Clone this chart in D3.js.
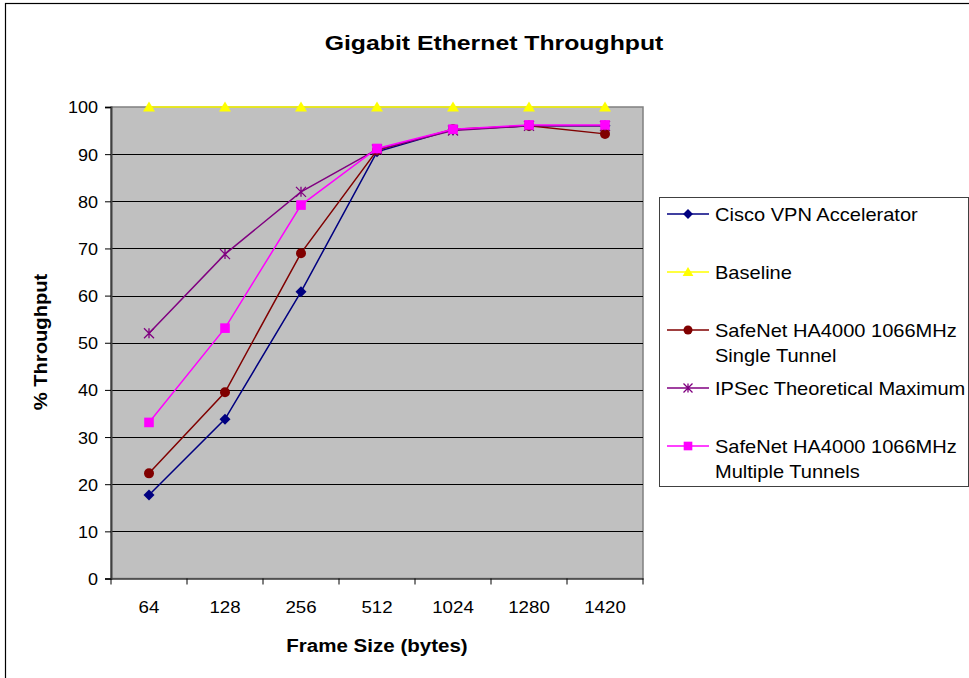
<!DOCTYPE html>
<html>
<head>
<meta charset="utf-8">
<script src="https://cdn.jsdelivr.net/npm/d3@7"></script>
<style>
  html, body { margin: 0; padding: 0; background: #fff; }
  svg { display: block; font-family: "Liberation Sans", Arial, sans-serif; }
</style>
</head>
<body>
<svg id="chart" width="969" height="678"></svg>
<script>
// Frame sizes on the category axis
const frameSizes = ["64", "128", "256", "512", "1024", "1280", "1420"];
const yTicks = [0, 10, 20, 30, 40, 50, 60, 70, 80, 90, 100];

// Throughput (%) per frame size for each configuration
const ciscoVpn      = [17.7, 33.8, 60.8, 90.5, 95.2, 96.0, 96.0];
const baseline      = [100, 100, 100, 100, 100, 100, 100];
const safenetSingle = [22.3, 39.5, 69.0, 90.8, 95.3, 96.0, 94.3];
const ipsecMax      = [52.0, 68.8, 82.0, 91.0, 95.0, 96.0, 96.0];
const safenetMulti  = [33.1, 53.1, 79.2, 91.2, 95.3, 96.2, 96.2];

const seriesNames = [
  ["Cisco VPN Accelerator"],
  ["Baseline"],
  ["SafeNet HA4000 1066MHz", "Single Tunnel"],
  ["IPSec Theoretical Maximum"],
  ["SafeNet HA4000 1066MHz", "Multiple Tunnels"]
];
const seriesValues = [ciscoVpn, baseline, safenetSingle, ipsecMax, safenetMulti];
const seriesColors = ["#000080", "#FFFF00", "#800000", "#800080", "#FF00FF"];
const seriesMarkers = ["diamond", "triangle", "circle", "star", "square"];

const series = seriesValues.map((vals, i) => ({
  name: seriesNames[i], values: vals, color: seriesColors[i], marker: seriesMarkers[i]
}));

const FONT = "Liberation Sans, Arial, sans-serif";

// widen text horizontally by a factor, keeping its anchor
function stretch(sel, factor) {
  sel.each(function () {
    const w = this.getComputedTextLength();
    d3.select(this).attr("textLength", w * factor).attr("lengthAdjust", "spacingAndGlyphs");
  });
}

const svg = d3.select("#chart");

// chart frame
svg.append("rect")
  .attr("x", 5.5).attr("y", 3.5).attr("width", 1000).attr("height", 1000)
  .attr("fill", "none").attr("stroke", "#000").attr("stroke-width", 1.2);

const plot = { left: 111, right: 643, top: 107, bottom: 578.5 };

const x = d3.scaleBand().domain(frameSizes).range([plot.left, plot.right]).padding(0);
const y = d3.scaleLinear().domain([0, 100]).range([plot.bottom, plot.top]);

// plot area background
svg.append("rect")
  .attr("x", plot.left).attr("y", plot.top)
  .attr("width", plot.right - plot.left).attr("height", plot.bottom - plot.top)
  .attr("fill", "#C0C0C0").attr("stroke", "#808080").attr("stroke-width", 1.5);

// horizontal gridlines
svg.append("g")
  .selectAll("line")
  .data(yTicks.filter(t => t > 0 && t < 100))
  .join("line")
  .attr("x1", plot.left).attr("x2", plot.right)
  .attr("y1", d => Math.round(y(d)) + 0.5).attr("y2", d => Math.round(y(d)) + 0.5)
  .attr("stroke", "#000").attr("stroke-width", 1.2);

// y axis
const yAxis = svg.append("g")
  .attr("transform", `translate(${plot.left},0)`)
  .call(d3.axisLeft(y).tickValues(yTicks).tickSize(6).tickPadding(7));
yAxis.attr("font-family", FONT).attr("font-size", 17);
yAxis.select(".domain").attr("stroke", "#404040").attr("stroke-width", 2);
yAxis.selectAll(".tick line").attr("stroke", "#000");
yAxis.selectAll("text").attr("fill", "#000").attr("dy", "0.35em").call(stretch, 1.06);

// x axis with ticks on category boundaries
const xAxis = svg.append("g")
  .attr("transform", `translate(0,${plot.bottom})`)
  .call(d3.axisBottom(x).tickSize(0).tickPadding(22));
xAxis.attr("font-family", FONT).attr("font-size", 17);
xAxis.select(".domain").attr("stroke", "#404040").attr("stroke-width", 1.5);
xAxis.selectAll("text").attr("fill", "#000").call(stretch, 1.1);
xAxis.selectAll("line.boundary")
  .data(frameSizes.map(d => x(d)).concat([plot.right]))
  .join("line")
  .attr("class", "boundary")
  .attr("x1", d => d).attr("x2", d => d)
  .attr("y1", 0).attr("y2", 6)
  .attr("stroke", "#000");

// marker shapes
function drawMarker(g, type, color, size) {
  const s = size;
  const r = s * 0.5;
  if (type === "diamond") {
    const d = r * 1.1;
    g.append("path").attr("d", `M0,${-d}L${d},0L0,${d}L${-d},0Z`)
      .attr("fill", color);
  } else if (type === "triangle") {
    g.append("path").attr("d", `M0,${-s * 0.55}L${s * 0.6},${s * 0.45}L${-s * 0.6},${s * 0.45}Z`)
      .attr("fill", color);
  } else if (type === "circle") {
    g.append("circle").attr("r", r).attr("fill", color);
  } else if (type === "square") {
    g.append("rect").attr("x", -s * 0.48).attr("y", -s * 0.48)
      .attr("width", s * 0.96).attr("height", s * 0.96).attr("fill", color);
  } else if (type === "star") {
    g.append("path")
      .attr("d", `M${-r},${-r}L${r},${r}M${-r},${r}L${r},${-r}M0,${-r}L0,${r}`)
      .attr("stroke", color).attr("stroke-width", 1.3).attr("fill", "none");
  }
}

const line = d3.line()
  .x((d, i) => x(frameSizes[i]) + x.bandwidth() / 2)
  .y(d => y(d));

series.forEach(s => {
  const g = svg.append("g");
  g.append("path")
    .attr("d", line(s.values))
    .attr("fill", "none")
    .attr("stroke", s.color)
    .attr("stroke-width", 1.5);
  s.values.forEach((v, i) => {
    const m = g.append("g")
      .attr("transform", `translate(${x(frameSizes[i]) + x.bandwidth() / 2},${y(v)})`);
    drawMarker(m, s.marker, s.color, 10);
  });
});

// title
svg.append("text")
  .attr("x", 494).attr("y", 50)
  .attr("text-anchor", "middle")
  .attr("font-family", FONT)
  .attr("font-size", 21).attr("font-weight", "bold")
  .text("Gigabit Ethernet Throughput")
  .call(stretch, 1.18);

// axis titles
svg.append("text")
  .attr("x", 377).attr("y", 652)
  .attr("text-anchor", "middle")
  .attr("font-family", FONT)
  .attr("font-size", 18).attr("font-weight", "bold")
  .text("Frame Size (bytes)")
  .call(stretch, 1.14);

svg.append("text")
  .attr("transform", "translate(47,342) rotate(-90)")
  .attr("text-anchor", "middle")
  .attr("font-family", FONT)
  .attr("font-size", 18).attr("font-weight", "bold")
  .text("% Throughput")
  .call(stretch, 1.12);

// legend
const legend = svg.append("g");
legend.append("rect")
  .attr("x", 659.5).attr("y", 197.5).attr("width", 309).attr("height", 289)
  .attr("fill", "#fff").attr("stroke", "#404040").attr("stroke-width", 1);

const legendRows = [214, 272, 330, 388, 446];
series.forEach((s, i) => {
  const cy = legendRows[i];
  const g = legend.append("g");
  g.append("line")
    .attr("x1", 667).attr("x2", 709).attr("y1", cy).attr("y2", cy)
    .attr("stroke", s.color).attr("stroke-width", 1.5);
  const m = g.append("g").attr("transform", `translate(688,${cy})`);
  drawMarker(m, s.marker, s.color, 9);
  s.name.forEach((ln, j) => {
    g.append("text")
      .attr("x", 715).attr("y", cy + 7 + j * 25)
      .attr("font-family", FONT)
      .attr("font-size", 19)
      .text(ln)
      .call(stretch, 1.055);
  });
});
</script>
</body>
</html>
